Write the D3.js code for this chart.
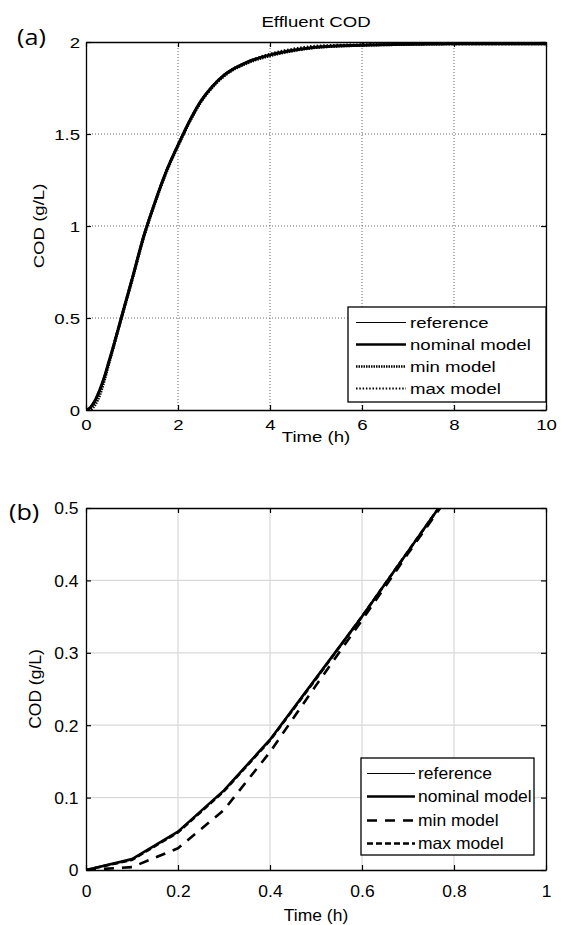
<!DOCTYPE html>
<html>
<head>
<meta charset="utf-8">
<script src="https://cdn.jsdelivr.net/npm/d3@7"></script>
<style>
  html, body { margin: 0; padding: 0; background: #fff; }
  svg { display: block; }
</style>
</head>
<body>
<svg id="fig" width="564" height="925"></svg>
<script>
// Simulated effluent COD (g/L) against time (h)
const time      = [0, 0.1, 0.2, 0.3, 0.4, 0.5, 0.6, 0.7, 0.8, 1.0, 1.25, 1.5, 1.75, 2.0, 2.25, 2.5, 2.75, 3.0, 3.5, 4.0, 4.5, 5.0, 6.0, 7.0, 8.0, 9.0, 10.0];
const reference = [0, 0.015, 0.053, 0.11, 0.18, 0.265, 0.35, 0.44, 0.53, 0.71, 0.94, 1.13, 1.30, 1.44, 1.57, 1.68, 1.76, 1.82, 1.89, 1.93, 1.955, 1.972, 1.983, 1.988, 1.99, 1.99, 1.99];
const nominal   = [0, 0.015, 0.053, 0.11, 0.18, 0.265, 0.35, 0.44, 0.53, 0.71, 0.94, 1.13, 1.30, 1.44, 1.57, 1.68, 1.76, 1.82, 1.89, 1.93, 1.955, 1.972, 1.983, 1.988, 1.99, 1.99, 1.99];
const minModel  = [0, 0.004, 0.03, 0.083, 0.163, 0.255, 0.345, 0.437, 0.527, 0.705, 0.935, 1.125, 1.295, 1.435, 1.565, 1.675, 1.755, 1.815, 1.885, 1.925, 1.952, 1.97, 1.982, 1.987, 1.99, 1.99, 1.99];
const maxModel  = [0, 0.014, 0.052, 0.109, 0.179, 0.264, 0.35, 0.44, 0.53, 0.71, 0.94, 1.13, 1.30, 1.44, 1.57, 1.68, 1.76, 1.82, 1.89, 1.935, 1.962, 1.978, 1.986, 1.99, 1.99, 1.99, 1.99];

const seriesNames = ["reference", "nominal model", "min model", "max model"];
const seriesValues = [reference, nominal, minModel, maxModel];

// Tick values for the two panels
const xTicksA = [0, 2, 4, 6, 8, 10];
const yTicksA = [0, 0.5, 1, 1.5, 2];
const xTicksB = [0, 0.2, 0.4, 0.6, 0.8, 1];
const yTicksB = [0, 0.1, 0.2, 0.3, 0.4, 0.5];

const svg = d3.select("#fig");
const fmt = d3.format("~g");
const SANS = "'Liberation Sans', Arial, sans-serif";

function label(g, x, y, s, o) {
  const t = g.append("text")
    .attr("transform", `translate(${x},${y}) rotate(${o.rotate || 0}) scale(${o.sx || 1},1)`)
    .attr("text-anchor", o.anchor || "middle")
    .style("font-family", o.family || SANS)
    .style("font-size", o.size + "px")
    .attr("fill", "#000")
    .text(s);
  if (o.dy) t.attr("dy", o.dy);
  return t;
}

function panel(cfg) {
  const g = svg.append("g");
  const x = d3.scaleLinear().domain(cfg.xDomain).range([86, 546]);
  const y = d3.scaleLinear().domain(cfg.yDomain).range([cfg.bottom, cfg.top]);
  const fs = cfg.fontSize, sx = cfg.sx;

  // grid
  const grid = g.append("g");
  cfg.xTicks.slice(1, -1).forEach(v => {
    grid.append("line").attr("x1", x(v)).attr("x2", x(v)).attr("y1", cfg.top).attr("y2", cfg.bottom)
      .attr("stroke", cfg.gridColor).attr("stroke-width", cfg.gridWidth)
      .attr("stroke-dasharray", cfg.gridDash);
  });
  cfg.yTicks.slice(1, -1).forEach(v => {
    grid.append("line").attr("x1", 86).attr("x2", 546).attr("y1", y(v)).attr("y2", y(v))
      .attr("stroke", cfg.gridColor).attr("stroke-width", cfg.gridWidth)
      .attr("stroke-dasharray", cfg.gridDash);
  });

  // series
  const clipId = "clip" + cfg.id;
  svg.append("clipPath").attr("id", clipId).append("rect")
    .attr("x", 86).attr("y", cfg.top).attr("width", 460).attr("height", cfg.bottom - cfg.top);
  const lines = g.append("g").attr("clip-path", `url(#${clipId})`);
  seriesValues.forEach((vals, i) => {
    const pts = time.map((t, k) => [t, vals[k]]);
    const line = d3.line().x(d => x(d[0])).y(d => y(d[1])).curve(cfg.curve);
    const st = cfg.styles[i];
    lines.append("path").datum(pts).attr("d", line)
      .attr("fill", "none").attr("stroke", "#000")
      .attr("stroke-width", st.w)
      .attr("stroke-dasharray", st.dash || null)
      .attr("stroke-linejoin", "round");
  });

  // axes (ticks point inward on all four sides)
  const styleAxis = sel => {
    sel.select(".domain").attr("stroke", "#000").attr("stroke-width", 1.3);
    sel.selectAll(".tick line").attr("stroke", "#000").attr("stroke-width", 1.2);
  };
  const xb = g.append("g").attr("transform", `translate(0,${cfg.bottom})`)
    .call(d3.axisBottom(x).tickValues(cfg.xTicks).tickSize(-5).tickSizeOuter(0).tickFormat(fmt));
  styleAxis(xb);
  xb.selectAll(".tick text").attr("y", 0).attr("dy", null)
    .attr("transform", `translate(0,${cfg.xLabelOffset}) scale(${sx},1)`)
    .style("font-family", SANS).style("font-size", fs + "px").attr("fill", "#000");

  const yl = g.append("g").attr("transform", "translate(86,0)")
    .call(d3.axisLeft(y).tickValues(cfg.yTicks).tickSize(-5).tickSizeOuter(0).tickFormat(fmt));
  styleAxis(yl);
  yl.selectAll(".tick text").attr("x", 0).attr("dy", "0.36em")
    .attr("transform", `translate(${cfg.yLabelOffset},0) scale(${sx},1)`)
    .style("font-family", SANS).style("font-size", fs + "px").attr("fill", "#000");

  const xt = g.append("g").attr("transform", `translate(0,${cfg.top})`)
    .call(d3.axisTop(x).tickValues(cfg.xTicks).tickSize(-5).tickSizeOuter(0).tickFormat(""));
  styleAxis(xt);
  const yr = g.append("g").attr("transform", "translate(546,0)")
    .call(d3.axisRight(y).tickValues(cfg.yTicks).tickSize(-5).tickSizeOuter(0).tickFormat(""));
  styleAxis(yr);

  // axis titles
  label(g, 316, cfg.xTitleY, "Time (h)", { size: fs, sx: sx });
  label(g, cfg.yTitleX, (cfg.top + cfg.bottom) / 2, "COD (g/L)", { size: fs, sx: sx, rotate: -90 });
  if (cfg.title) label(g, 316, cfg.top - 15, cfg.title, { size: fs, sx: sx });
  label(g, cfg.tagX, cfg.tagY, cfg.tag, { size: 21, sx: 1.2, anchor: "start", family: "'Open Sans', sans-serif" });

  // legend
  const L = cfg.legend;
  const lg = g.append("g");
  lg.append("rect").attr("x", L.x0).attr("y", L.y0).attr("width", L.x1 - L.x0).attr("height", L.y1 - L.y0)
    .attr("fill", "#fff").attr("stroke", "#000").attr("stroke-width", 1.3);
  seriesNames.forEach((name, i) => {
    const yy = Math.round(L.row0 + i * L.step) + 0.5;
    const st = cfg.styles[i];
    lg.append("line").attr("x1", L.lx0).attr("x2", L.lx1).attr("y1", yy).attr("y2", yy)
      .attr("stroke", "#000").attr("stroke-width", st.lw || st.w).attr("stroke-dasharray", st.dash || null);
    label(lg, L.tx, yy, name, { size: fs, sx: sx, anchor: "start", dy: "0.36em" });
  });
}

panel({
  id: "a", xDomain: [0, 10], yDomain: [0, 2], top: 42, bottom: 410,
  xTicks: xTicksA, yTicks: yTicksA, fontSize: 15.5, sx: 1.2,
  gridColor: "#666", gridWidth: 1, gridDash: "1,2",
  curve: d3.curveMonotoneX,
  styles: [{ w: 1 }, { w: 3, lw: 2.6 }, { w: 3, lw: 2.6, dash: "1.5,1" }, { w: 2.6, lw: 2.2, dash: "1.5,1.8" }],
  xLabelOffset: 20, yLabelOffset: -6, xTitleY: 442, yTitleX: 44,
  title: "Effluent COD", tag: "(a)", tagX: 17, tagY: 45,
  legend: { x0: 348, x1: 546, y0: 307, y1: 402, row0: 321.5, step: 22.3, lx0: 356, lx1: 406, tx: 410 }
});

panel({
  id: "b", xDomain: [0, 1], yDomain: [0, 0.5], top: 508, bottom: 870,
  xTicks: xTicksB, yTicks: yTicksB, fontSize: 16.5, sx: 1.06,
  gridColor: "#d9d9d9", gridWidth: 1.2, gridDash: null,
  curve: d3.curveLinear,
  styles: [{ w: 1 }, { w: 2.6 }, { w: 2.6, dash: "10,8" }, { w: 2.6, dash: "6,3" }],
  xLabelOffset: 27, yLabelOffset: -7.5, xTitleY: 921, yTitleX: 41,
  title: null, tag: "(b)", tagX: 9, tagY: 520,
  legend: { x0: 361, x1: 534, y0: 758, y1: 855, row0: 773, step: 23.4, lx0: 367, lx1: 415, tx: 418 }
});
</script>
</body>
</html>
